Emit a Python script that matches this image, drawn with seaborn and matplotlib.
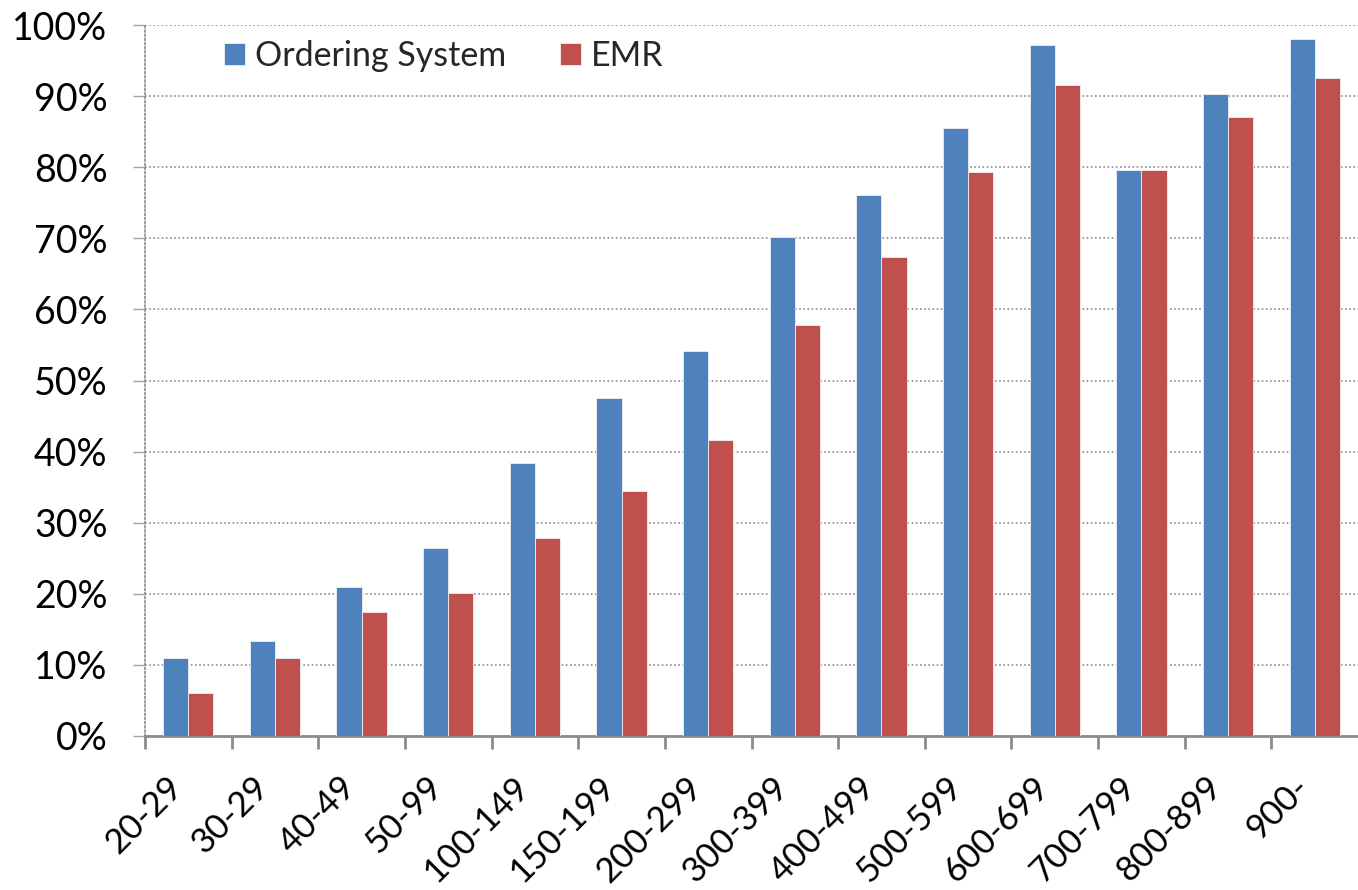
import matplotlib
matplotlib.use("Agg")
import matplotlib.pyplot as plt
import seaborn as sns
import pandas as pd
from matplotlib.ticker import FixedLocator, PercentFormatter

categories = ["20-29", "30-29", "40-49", "50-99", "100-149", "150-199", "200-299",
              "300-399", "400-499", "500-599", "600-699", "700-799", "800-899", "900-"]
ordering_system = [11.0, 13.3, 21.0, 26.4, 38.4, 47.5, 54.1, 70.2, 76.1, 85.5, 97.2, 79.6, 90.3, 98.1]
emr = [6.0, 11.0, 17.4, 20.1, 27.8, 34.5, 41.6, 57.8, 67.4, 79.3, 91.5, 79.6, 87.1, 92.5]
series_names = ["Ordering System", "EMR"]
colors = ["#4F81BD", "#C0504D"]

df = pd.DataFrame({
    "range": categories * 2,
    "value": ordering_system + emr,
    "series": [series_names[0]] * len(categories) + [series_names[1]] * len(categories),
})

sns.set_style("white")
plt.rcParams["font.family"] = ["Lato", "DejaVu Sans"]

fig = plt.figure(figsize=(13.58, 8.90), dpi=100)
ax = fig.add_axes([145 / 1358, 1 - 736 / 890, 1 - 145 / 1358, (736 - 25) / 890])

sns.barplot(data=df, x="range", y="value", hue="series", order=categories,
            hue_order=series_names, palette=colors, width=0.58, gap=0,
            edgecolor="#f0f0f0", linewidth=0.6, saturation=1, ax=ax, zorder=3)

ax.set_ylim(0, 100)
ax.set_xlim(-0.5, len(categories) - 0.5)
ax.set_yticks(range(0, 101, 10))
ax.yaxis.set_major_formatter(PercentFormatter(decimals=0))
ax.grid(axis="y", color="#8c8c8c", linestyle=(0, (1, 1.5)), linewidth=1.2, zorder=0)
ax.set_axisbelow(True)

for s in ["top", "right"]:
    ax.spines[s].set_visible(False)
ax.spines["left"].set_color("#8c8c8c")
ax.spines["left"].set_linestyle((0, (1, 1.5)))
ax.spines["left"].set_linewidth(1.2)
ax.spines["bottom"].set_color("#8c8c8c")
ax.spines["bottom"].set_linewidth(2)

ax.tick_params(axis="y", which="major", length=9, width=1, color="#a0a0a0",
               pad=18, labelsize=27, labelcolor="black", left=True)
ax.tick_params(axis="x", which="major", length=0, pad=25, labelsize=25, labelcolor="black")
ax.xaxis.set_minor_locator(FixedLocator([i - 0.5 for i in range(len(categories))]))
ax.tick_params(axis="x", which="minor", length=9, width=2, color="#8c8c8c", bottom=True)
for lab in ax.get_xticklabels():
    lab.set_rotation(45)
    lab.set_ha("right")
    lab.set_va("top")

ax.set_xlabel("")
ax.set_ylabel("")

leg = ax.legend(loc="upper left", bbox_to_anchor=(0.04, 1.022), ncol=2, frameon=False,
                fontsize=24.5, handlelength=0.6, handleheight=0.6, handletextpad=0.3,
                columnspacing=1.6)

fig.savefig("out.png", dpi=100)
